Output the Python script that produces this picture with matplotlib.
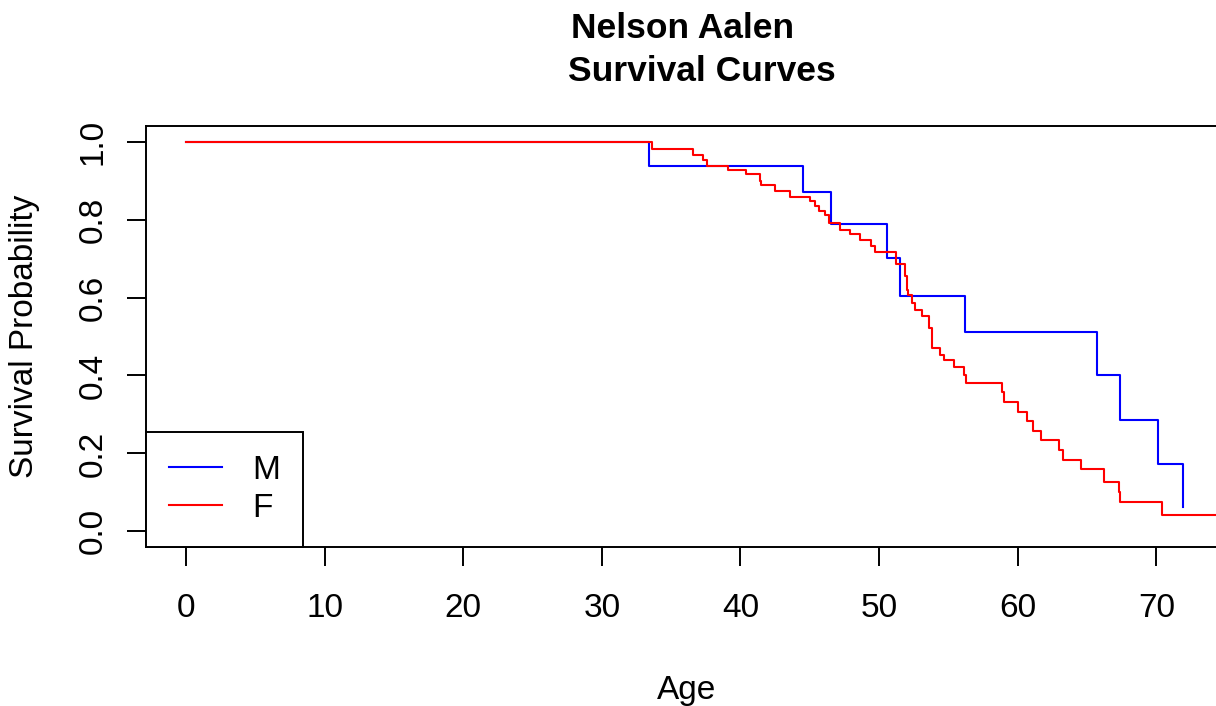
"""
Nelson Aalen survival curves by sex, redrawn from the reference picture.
"""
import matplotlib
matplotlib.use("Agg")
from matplotlib import pyplot as plt

# male group: event ages and survival after each step
male_age = [0, 33.4, 44.5, 46.5, 50.6, 51.5, 56.2, 65.7, 67.4, 70.1, 71.9]
male_surv = [1.0, 0.937, 0.871, 0.789, 0.701, 0.605, 0.511, 0.400, 0.285, 0.174, 0.0625]

# female group
female_age = [
    0, 33.6, 36.6, 37.3, 37.6, 39.1, 40.4, 41.4, 41.5, 42.5, 43.6,
    45.0, 45.4, 45.7, 46.1, 46.4, 47.2, 47.9, 48.6, 49.4, 49.7,
    51.2, 51.9, 52.0, 52.1, 52.4, 52.6, 53.1, 53.6, 53.8, 54.4,
    54.7, 55.4, 56.1, 56.3, 58.9, 59.0, 60.0, 60.7, 61.1, 61.7,
    63.0, 63.3, 64.6, 66.2, 67.3, 67.4, 70.4, 76.0,
]
female_surv = [
    1.0, 0.980, 0.965, 0.954, 0.937, 0.928, 0.917, 0.900, 0.889, 0.872, 0.858,
    0.847, 0.834, 0.821, 0.812, 0.791, 0.774, 0.763, 0.748, 0.733, 0.718,
    0.686, 0.654, 0.620, 0.607, 0.585, 0.568, 0.553, 0.521, 0.470, 0.452,
    0.440, 0.422, 0.401, 0.380, 0.358, 0.332, 0.307, 0.284, 0.258, 0.234,
    0.210, 0.184, 0.159, 0.127, 0.101, 0.075, 0.043, 0.043,
]

x_ticks = [0, 10, 20, 30, 40, 50, 60, 70]
y_ticks = [0.0, 0.2, 0.4, 0.6, 0.8, 1.0]

plt.rcParams["font.family"] = ["Liberation Sans", "DejaVu Sans"]

W, H = 1216, 706
fig = plt.figure(figsize=(W / 100, H / 100), dpi=100)
ax = fig.add_axes([146 / W, 159 / H, 1081 / W, 421 / H])

ax.step(male_age, male_surv, where="post", color="#0000ff", lw=1.5, label="M")
ax.step(female_age, female_surv, where="post", color="#ff0000", lw=1.5, label="F")

ax.set_xlim(-2.89, 75.1)
ax.set_ylim(-0.04, 1.04)
ax.set_xticks(x_ticks)
ax.set_yticks(y_ticks)
ax.set_yticklabels([f"{v:.1f}" for v in y_ticks], rotation=90, va="center")
ax.tick_params(axis="both", labelsize=24, length=14, width=1.4)
ax.tick_params(axis="x", pad=19)
ax.tick_params(axis="y", pad=13)
for spine in ax.spines.values():
    spine.set_linewidth(1.4)

ax.set_xlabel("Age", fontsize=24)
ax.xaxis.set_label_coords(0.5, -0.305)
ax.set_ylabel("Survival Probability", fontsize=24)
ax.yaxis.set_label_coords(-0.0984, 0.5)

leg = ax.legend(
    loc="lower left",
    borderaxespad=0,
    fancybox=False,
    edgecolor="black",
    framealpha=1,
    fontsize=24,
    handlelength=1.6,
    handletextpad=0.9,
    borderpad=0.69,
    labelspacing=0.21,
)
leg.get_frame().set_linewidth(1.4)

fig.text(683 / W, 1 - 38 / H, "Nelson Aalen", fontsize=25.5, fontweight="bold",
         ha="center", va="baseline")
fig.text(702 / W, 1 - 81 / H, "Survival Curves", fontsize=25.5, fontweight="bold",
         ha="center", va="baseline")

fig.savefig("out.png", dpi=100)
